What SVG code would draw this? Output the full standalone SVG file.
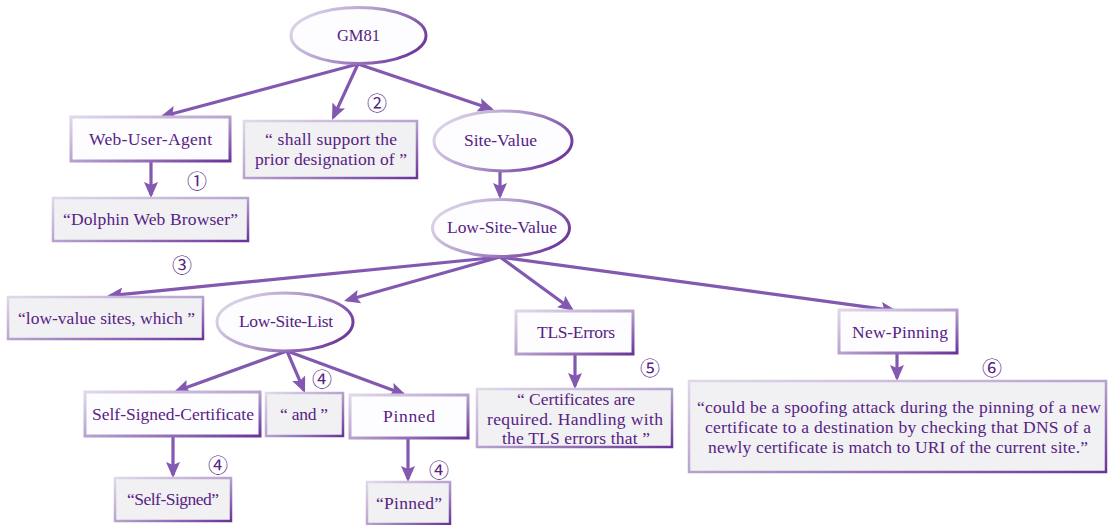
<svg xmlns="http://www.w3.org/2000/svg" width="1108" height="525" viewBox="0 0 1108 525">
  <defs>
    <linearGradient id="edge" x1="0" y1="0" x2="1" y2="1">
      <stop offset="0" stop-color="#e0d8ea"/>
      <stop offset="0.5" stop-color="#b8a3cf"/>
      <stop offset="1" stop-color="#6a3399"/>
    </linearGradient>
    <linearGradient id="ring" x1="0" y1="0.3" x2="1" y2="0.7">
      <stop offset="0" stop-color="#ddd5e8"/>
      <stop offset="0.45" stop-color="#b09bcb"/>
      <stop offset="1" stop-color="#6a3399"/>
    </linearGradient>
    <marker id="arrow" markerUnits="userSpaceOnUse" markerWidth="18" markerHeight="16" refX="13" refY="7" orient="auto">
      <path d="M0,0 L16,7 L0,14 L3,7 z" fill="#8358b1"/>
    </marker>
    <style>
      .term rect, .term ellipse { fill: #fdfcfe; stroke-width: 3; }
      .term rect { stroke: url(#edge); }
      .term ellipse { stroke: url(#ring); }
      .quote rect { fill: #f1f0f2; stroke: url(#edge); stroke-width: 2.5; }
      text { font-family: "Liberation Serif", "Times New Roman", serif; font-size: 17.5px; fill: #562385; text-anchor: middle; }
      .num { font-family: "Noto Sans CJK SC", "DejaVu Sans", sans-serif; font-size: 20px; fill: #562385; }
      #connectors line { stroke: #8358b1; stroke-width: 3.2; marker-end: url(#arrow); }
    </style>
  </defs>

  <g id="connectors">
    <line x1="358" y1="64" x2="162.9" y2="116.2"/>
    <line x1="358" y1="64" x2="333.3" y2="117.3"/>
    <line x1="358" y1="64" x2="491.2" y2="109"/>
    <line x1="151" y1="161" x2="151" y2="195"/>
    <line x1="500" y1="172" x2="500" y2="196"/>
    <line x1="500" y1="257" x2="110" y2="295.7"/>
    <line x1="500" y1="257" x2="346.9" y2="300.2"/>
    <line x1="500" y1="257" x2="571.6" y2="309.2"/>
    <line x1="500" y1="257" x2="894" y2="310.6"/>
    <line x1="575" y1="354" x2="575" y2="386"/>
    <line x1="897" y1="353" x2="897" y2="378"/>
    <line x1="287" y1="351" x2="176.8" y2="391"/>
    <line x1="287" y1="351" x2="303.8" y2="390.2"/>
    <line x1="287" y1="351" x2="403.2" y2="394"/>
    <line x1="173" y1="436" x2="173" y2="475"/>
    <line x1="408" y1="438" x2="408" y2="479"/>
  </g>

  <g id="gm81" class="term">
    <ellipse cx="358.5" cy="35.5" rx="67.5" ry="28"/>
    <text x="358.5" y="41" style="font-size:16.5px">GM81</text>
  </g>

  <g id="web-user-agent" class="term">
    <rect x="71" y="117" width="159" height="44"/>
    <text x="150.5" y="145" textLength="123">Web-User-Agent</text>
  </g>
  <text class="num" x="197" y="189">①</text>

  <g id="dolphin" class="quote">
    <rect x="53" y="198" width="195" height="43"/>
    <text x="150.5" y="225" textLength="175">“Dolphin Web Browser”</text>
  </g>

  <g id="shall-support" class="quote">
    <rect x="244" y="121" width="173" height="57"/>
    <text x="331" y="145" textLength="132">“ shall support the</text>
    <text x="331" y="165" textLength="152">prior designation of ”</text>
  </g>
  <text class="num" x="377" y="111">②</text>

  <g id="site-value" class="term">
    <ellipse cx="503" cy="141" rx="69" ry="30"/>
    <text x="500.5" y="146" textLength="73">Site-Value</text>
  </g>

  <g id="low-site-value" class="term">
    <ellipse cx="501" cy="228" rx="68.5" ry="28.5"/>
    <text x="502" y="233" textLength="110">Low-Site-Value</text>
  </g>
  <text class="num" x="182" y="273">③</text>

  <g id="low-value-sites" class="quote">
    <rect x="8" y="297" width="195" height="42"/>
    <text x="106.5" y="324" textLength="177">“low-value sites, which ”</text>
  </g>

  <g id="low-site-list" class="term">
    <ellipse cx="285" cy="322" rx="68" ry="29"/>
    <text x="286" y="327" textLength="94">Low-Site-List</text>
  </g>

  <g id="tls-errors" class="term">
    <rect x="516" y="311" width="117" height="43"/>
    <text x="576" y="338" textLength="78">TLS-Errors</text>
  </g>
  <text class="num" x="650" y="376">⑤</text>

  <g id="certificates" class="quote">
    <rect x="477" y="389" width="195" height="58"/>
    <text x="576" y="405" textLength="118">“ Certificates are</text>
    <text x="575" y="425" textLength="176">required. Handling with</text>
    <text x="576" y="444" textLength="148">the TLS errors that ”</text>
  </g>

  <g id="new-pinning" class="term">
    <rect x="839" y="310" width="118" height="43"/>
    <text x="900" y="338" textLength="96">New-Pinning</text>
  </g>
  <text class="num" x="992" y="376">⑥</text>

  <g id="spoofing" class="quote">
    <rect x="689" y="381" width="417" height="91"/>
    <text x="899" y="413" textLength="404">“could be a spoofing attack during the pinning of a new</text>
    <text x="898" y="433" textLength="386">certificate to a destination by checking that DNS of a</text>
    <text x="898" y="453" textLength="380">newly certificate is match to URI of the current site.”</text>
  </g>

  <g id="self-signed-certificate" class="term">
    <rect x="85" y="392" width="175" height="44"/>
    <text x="173" y="420" textLength="162">Self-Signed-Certificate</text>
  </g>
  <text class="num" x="218" y="473">④</text>

  <g id="and" class="quote">
    <rect x="266" y="393" width="77" height="43"/>
    <text x="304" y="420" textLength="48">“ and ”</text>
  </g>
  <text class="num" x="322" y="387">④</text>

  <g id="pinned" class="term">
    <rect x="350" y="395" width="118" height="43"/>
    <text x="409" y="422" textLength="52">Pinned</text>
  </g>
  <text class="num" x="439" y="478">④</text>

  <g id="self-signed" class="quote">
    <rect x="115" y="478" width="116" height="43"/>
    <text x="173" y="505" textLength="92">“Self-Signed”</text>
  </g>

  <g id="pinned-quote" class="quote">
    <rect x="367" y="482" width="83" height="42"/>
    <text x="409" y="509" textLength="66">“Pinned”</text>
  </g>
</svg>
